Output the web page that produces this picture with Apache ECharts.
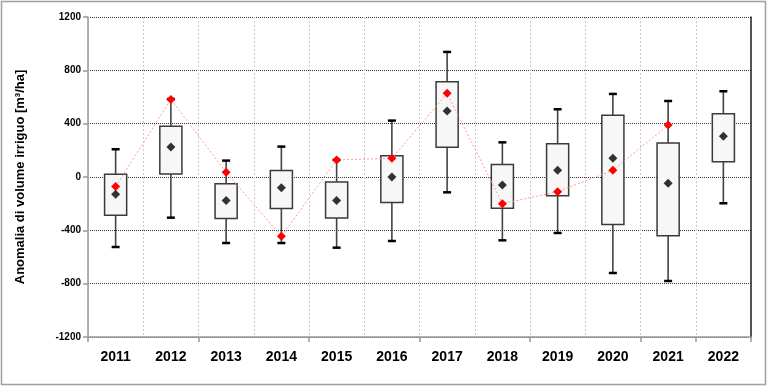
<!DOCTYPE html>
<html><head><meta charset="utf-8">
<script src="https://cdn.jsdelivr.net/npm/echarts@6/dist/echarts.min.js"></script>
<style>html,body{margin:0;padding:0;background:#fff}#c{width:768px;height:387px}</style>
</head><body><div id="c"></div>
<script>
const years = ['2011','2012','2013','2014','2015','2016','2017','2018','2019','2020','2021','2022'];
const whiskerMax = [208, 585, 123, 228, 128, 423, 938, 260, 508, 623, 570, 643];
const q3 = [20, 380, -50, 48, -37, 160, 715, 93, 250, 463, 255, 475];
const q1 = [-287, 22, -312, -237, -307, -192, 223, -235, -140, -357, -440, 115];
const whiskerMin = [-525, -305, -495, -495, -530, -480, -115, -475, -420, -720, -780, -197];
const means = [-130, 225, -177, -80, -177, 0, 495, -60, 50, 140, -47, 305];
const reds = [-72, 582, 35, -445, 128, 140, 628, -200, -110, 50, 390, null];
const yTicks = {min: -1200, max: 1200, interval: 400};

const boxData = years.map((y, i) => [i, whiskerMin[i], q1[i], q3[i], whiskerMax[i]]);

function renderBox(params, api) {
  const i = api.value(0);
  const pMin = api.coord([i, api.value(1)]);
  const pQ1 = api.coord([i, api.value(2)]);
  const pQ3 = api.coord([i, api.value(3)]);
  const pMax = api.coord([i, api.value(4)]);
  const band = api.size([1, 0])[0];
  const bw = band * 0.4;
  const cx = pQ1[0];
  const cap = 4;
  return {
    type: 'group',
    children: [
      {type: 'line', shape: {x1: cx, y1: pMax[1], x2: cx, y2: pQ3[1]}, style: {stroke: '#444', lineWidth: 1.6}},
      {type: 'line', shape: {x1: cx, y1: pQ1[1], x2: cx, y2: pMin[1]}, style: {stroke: '#444', lineWidth: 1.6}},
      {type: 'line', shape: {x1: cx - cap, y1: pMax[1], x2: cx + cap, y2: pMax[1]}, style: {stroke: '#000', lineWidth: 2.5}},
      {type: 'line', shape: {x1: cx - cap, y1: pMin[1], x2: cx + cap, y2: pMin[1]}, style: {stroke: '#000', lineWidth: 2.5}},
      {type: 'rect', shape: {x: cx - bw / 2, y: pQ3[1], width: bw, height: pQ1[1] - pQ3[1]},
       style: {fill: '#f7f7f7', stroke: '#3a3a3a', lineWidth: 1.5}}
    ]
  };
}

const chart = echarts.init(document.getElementById('c'), null, {renderer: 'canvas'});
chart.setOption({
  animation: false,
  backgroundColor: '#fff',
  graphic: [{type: 'rect', shape: {x: 1.5, y: 1.5, width: 764, height: 383},
    style: {fill: 'none', stroke: '#a0a0a0', lineWidth: 1.5}, z: -1}],
  grid: {left: 88, right: 17, top: 17, bottom: 50},
  xAxis: {
    type: 'category', data: years, boundaryGap: true,
    axisLine: {onZero: false, lineStyle: {color: '#999', width: 1.5}},
    axisTick: {show: true, interval: 1, length: 5, lineStyle: {color: '#999', width: 1.5}},
    axisLabel: {interval: 0, margin: 13, color: '#000', fontFamily: 'Liberation Sans', fontWeight: 'bold', fontSize: 14},
    splitLine: {show: true, interval: 0, lineStyle: {color: '#c8c8c8', type: [2, 2], width: 1}}
  },
  yAxis: [{
    type: 'value', min: yTicks.min, max: yTicks.max, interval: yTicks.interval,
    name: 'Anomalia di volume irriguo [m³/ha]', nameLocation: 'middle', nameGap: 61,
    nameTextStyle: {color: '#000', fontFamily: 'Liberation Sans', fontWeight: 'bold', fontSize: 13},
    axisLine: {show: true, lineStyle: {color: '#999', width: 1.5}},
    axisTick: {show: true, length: 5, lineStyle: {color: '#999', width: 1.5}},
    axisLabel: {margin: 7, color: '#000', fontFamily: 'Liberation Sans', fontWeight: 'bold', fontSize: 10,
      formatter: v => String(v)},
    splitLine: {show: true, lineStyle: {color: '#333', type: [1, 1], width: 1}}
  }, {
    type: 'value', position: 'right', min: yTicks.min, max: yTicks.max, interval: yTicks.interval,
    axisLine: {show: true, lineStyle: {color: '#222', width: 1.5}},
    axisTick: {show: false}, axisLabel: {show: false}, splitLine: {show: false}
  }],
  series: [
    {type: 'custom', renderItem: renderBox, data: boxData, encode: {x: 0, y: [1, 2, 3, 4]}, z: 2, clip: false},
    {type: 'line', data: reds, connectNulls: false, symbol: 'diamond', symbolSize: 9,
     itemStyle: {color: '#ff0000'}, lineStyle: {color: '#ff9a9a', width: 1, type: [2, 2]}, z: 3},
    {type: 'scatter', data: means, symbol: 'diamond', symbolSize: 9, itemStyle: {color: '#000'}, z: 4}
  ]
});
</script></body></html>
